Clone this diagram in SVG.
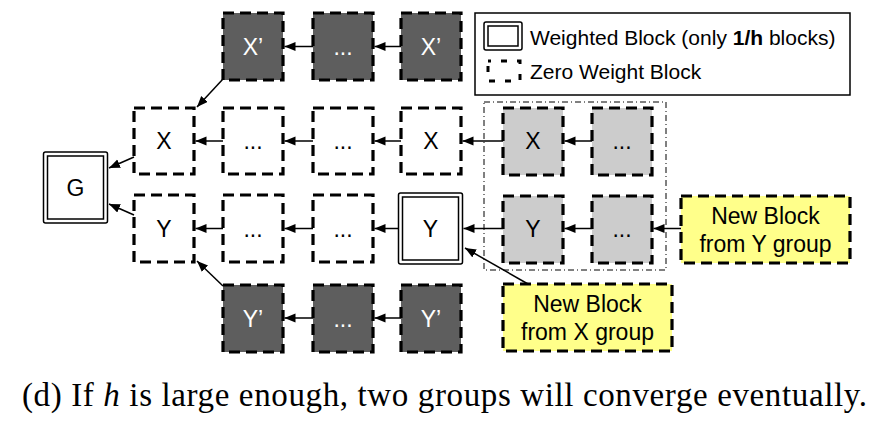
<svg xmlns="http://www.w3.org/2000/svg" width="888" height="425" viewBox="0 0 888 425">
<defs>
<marker id="ah" markerUnits="userSpaceOnUse" markerWidth="12" markerHeight="10" refX="11" refY="4.5" orient="auto">
<path d="M0,0 L11,4.5 L0,9 z" fill="#000"/>
</marker>
<style>
.dz{stroke:#000;stroke-width:3.2;stroke-dasharray:11 6;}
.w{fill:#fff;}
.dk{fill:#5e5e5e;}
.lg{fill:#cccccc;}
.yl{fill:#ffff8a;}
.t{font-family:"Liberation Sans",Arial,sans-serif;font-size:23px;text-anchor:middle;fill:#000;}
.tw{fill:#fff;}
.c{stroke:#000;stroke-width:1.5;fill:none;marker-end:url(#ah);}
.dbl{fill:#fff;stroke:#000;stroke-width:1.5;}
.lt{font-family:"Liberation Sans",Arial,sans-serif;font-size:21px;fill:#000;}
</style>
</defs>
<rect width="888" height="425" fill="#fff"/>

<!-- legend -->
<g id="legend">
<rect x="475" y="13" width="375" height="82" fill="#fff" stroke="#000" stroke-width="1.5"/>
<rect x="484" y="22" width="38" height="28" rx="2" class="dbl"/>
<rect x="488" y="26" width="30" height="20" fill="none" stroke="#000" stroke-width="1.5"/>
<rect x="488" y="61" width="32" height="20" fill="none" stroke="#000" stroke-width="3" stroke-dasharray="6 10 6 10" stroke-dashoffset="3"/>
<text x="530" y="45" class="lt">Weighted Block (only <tspan font-weight="bold">1/h</tspan> blocks)</text>
<text x="530" y="79" class="lt">Zero Weight Block</text>
</g>

<!-- dash-dot group -->
<rect id="group-box" x="484" y="102" width="182" height="168" fill="none" stroke="#000" stroke-width="1" stroke-dasharray="6 3 1 3"/>

<!-- top row X' -->
<g id="xp1"><rect x="223" y="13" width="60" height="67" class="dz dk"/><text x="253" y="55" class="t tw">X’</text></g>
<g id="xp2"><rect x="313" y="13" width="60" height="67" class="dz dk"/><text x="343" y="55" class="t tw">...</text></g>
<g id="xp3"><rect x="401" y="13" width="60" height="67" class="dz dk"/><text x="431" y="55" class="t tw">X’</text></g>

<!-- row X -->
<g id="x1"><rect x="134" y="108" width="60" height="66" class="dz w"/><text x="164" y="149" class="t">X</text></g>
<g id="x2"><rect x="223" y="108" width="60" height="66" class="dz w"/><text x="253" y="149" class="t">...</text></g>
<g id="x3"><rect x="313" y="108" width="60" height="66" class="dz w"/><text x="343" y="149" class="t">...</text></g>
<g id="x4"><rect x="401" y="108" width="60" height="66" class="dz w"/><text x="431" y="149" class="t">X</text></g>
<g id="x5"><rect x="503" y="108" width="60" height="67" class="dz lg"/><text x="533" y="149" class="t">X</text></g>
<g id="x6"><rect x="592" y="108" width="60" height="67" class="dz lg"/><text x="622" y="149" class="t">...</text></g>

<!-- G -->
<g id="g"><rect x="43.5" y="152" width="64" height="71" rx="2" class="dbl"/><rect x="47.5" y="156" width="56" height="63" fill="none" stroke="#000" stroke-width="1.5"/><text x="75.5" y="196" class="t">G</text></g>

<!-- row Y -->
<g id="y1"><rect x="134" y="195" width="60" height="67" class="dz w"/><text x="164" y="237" class="t">Y</text></g>
<g id="y2"><rect x="223" y="195" width="60" height="67" class="dz w"/><text x="253" y="237" class="t">...</text></g>
<g id="y3"><rect x="313" y="195" width="60" height="67" class="dz w"/><text x="343" y="237" class="t">...</text></g>
<g id="y4"><rect x="398.5" y="193" width="64" height="71" rx="2" class="dbl"/><rect x="402.5" y="197" width="56" height="63" fill="none" stroke="#000" stroke-width="1.5"/><text x="430.5" y="237" class="t">Y</text></g>
<g id="y5"><rect x="503" y="196" width="60" height="67" class="dz lg"/><text x="533" y="237" class="t">Y</text></g>
<g id="y6"><rect x="592" y="196" width="60" height="67" class="dz lg"/><text x="622" y="237" class="t">...</text></g>
<g id="newy"><rect x="681" y="196" width="169" height="67" class="dz yl"/><text x="765.5" y="224" class="t">New Block</text><text x="765.5" y="252" class="t">from Y group</text></g>

<!-- bottom row Y' -->
<g id="yp1"><rect x="223" y="285" width="60" height="67" class="dz dk"/><text x="253" y="327" class="t tw">Y’</text></g>
<g id="yp2"><rect x="313" y="285" width="60" height="67" class="dz dk"/><text x="343" y="327" class="t tw">...</text></g>
<g id="yp3"><rect x="401" y="285" width="60" height="67" class="dz dk"/><text x="431" y="327" class="t tw">Y’</text></g>
<g id="newx"><rect x="503" y="284" width="169" height="67" class="dz yl"/><text x="587.5" y="312" class="t">New Block</text><text x="587.5" y="340" class="t">from X group</text></g>

<!-- connectors -->
<g id="connectors">
<line x1="313" y1="46.5" x2="284.5" y2="46.5" class="c"/>
<line x1="401" y1="46.5" x2="374.5" y2="46.5" class="c"/>
<line x1="223" y1="141" x2="195.5" y2="141" class="c"/>
<line x1="313" y1="141" x2="284.5" y2="141" class="c"/>
<line x1="401" y1="141" x2="374.5" y2="141" class="c"/>
<line x1="503" y1="141" x2="462.5" y2="141" class="c"/>
<line x1="592" y1="141" x2="564.5" y2="141" class="c"/>
<line x1="223" y1="228.5" x2="195.5" y2="228.5" class="c"/>
<line x1="313" y1="228.5" x2="284.5" y2="228.5" class="c"/>
<line x1="398.5" y1="228.5" x2="374.5" y2="228.5" class="c"/>
<line x1="503" y1="228.5" x2="463.5" y2="228.5" class="c"/>
<line x1="592" y1="228.5" x2="564.5" y2="228.5" class="c"/>
<line x1="681" y1="228.5" x2="653.5" y2="228.5" class="c"/>
<line x1="313" y1="318" x2="284.5" y2="318" class="c"/>
<line x1="401" y1="318" x2="374.5" y2="318" class="c"/>
<line x1="223" y1="79" x2="197" y2="107" class="c"/>
<line x1="223" y1="286" x2="197" y2="261" class="c"/>
<line x1="134" y1="157" x2="109" y2="168" class="c"/>
<line x1="134" y1="215" x2="109" y2="204" class="c"/>
<line x1="528" y1="284" x2="465" y2="248" class="c"/>
</g>

<text x="22" y="406" font-family="'Liberation Serif','Times New Roman',serif" font-size="33" textLength="845" lengthAdjust="spacing">(d) If <tspan font-style="italic">h</tspan> is large enough, two groups will converge eventually.</text>
</svg>
